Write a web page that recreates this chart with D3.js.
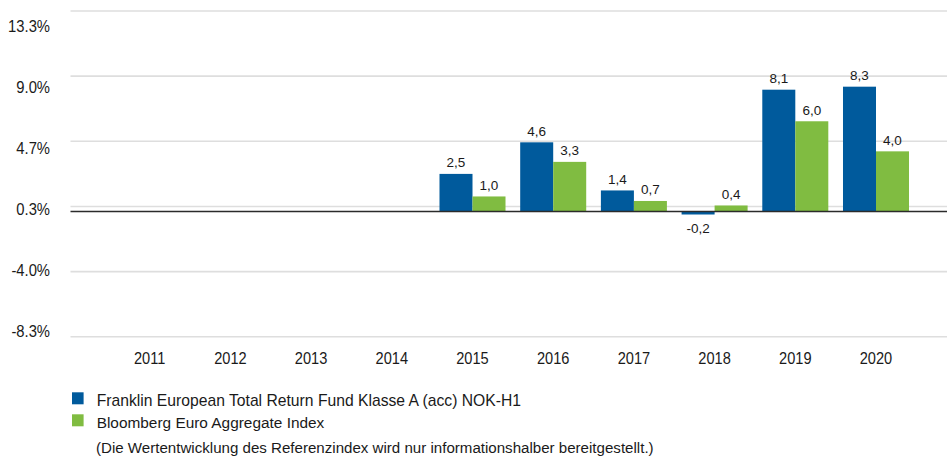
<!DOCTYPE html>
<html>
<head>
<meta charset="utf-8">
<script src="https://cdnjs.cloudflare.com/ajax/libs/d3/7.8.5/d3.min.js"></script>
<style>
  html, body { margin: 0; padding: 0; background: #fff; }
  svg { display: block; font-family: "Liberation Sans", Arial, sans-serif; }
</style>
</head>
<body>
<svg id="chart" width="947" height="459"></svg>
<script>
const years = ["2011","2012","2013","2014","2015","2016","2017","2018","2019","2020"];
const fundValues  = [null, null, null, null, 2.5, 4.6, 1.4, -0.2, 8.1, 8.3];
const indexValues = [null, null, null, null, 1.0, 3.3, 0.7, 0.4, 6.0, 4.0];
const seriesNames = ["Franklin European Total Return Fund Klasse A (acc) NOK-H1", "Bloomberg Euro Aggregate Index"];
const tickValues = [13.333, 9.0, 4.667, 0.333, -4.0, -8.333];
const tickLabels = ["13.3%", "9.0%", "4.7%", "0.3%", "-4.0%", "-8.3%"];
const note = "(Die Wertentwicklung des Referenzindex wird nur informationshalber bereitgestellt.)";

const colors = ["#005a9c", "#80bc41"];
const svg = d3.select("#chart");

const y = d3.scaleLinear().domain([-8.333, 13.333]).range([336.8, 11]);
const yLabel = d3.scaleLinear().domain([-8.333, 13.333]).range([337.3, 31.7]);
const x0 = d3.scaleBand().domain(years).range([109.35, 916.35]).paddingInner(0.182).paddingOuter(0.091);
const x1 = d3.scaleBand().domain([0, 1]).range([0, x0.bandwidth()]);

// gridlines
svg.append("g").selectAll("line").data(tickValues).join("line")
  .attr("x1", 70.5).attr("x2", 947)
  .attr("y1", d => y(d)).attr("y2", d => y(d))
  .attr("stroke", "#dedede").attr("stroke-width", 1.6);

// tick labels (separately spaced)
svg.append("g").selectAll("g").data(tickValues).join("g")
  .attr("transform", d => `translate(50,${yLabel(d)}) scale(0.87,1)`)
  .append("text")
  .attr("text-anchor", "end")
  .attr("font-size", 17).attr("fill", "#1a1a1a")
  .text((d, i) => tickLabels[i]);

// bars
const series = [fundValues, indexValues];
const barData = [];
years.forEach((yr, i) => series.forEach((s, k) => { if (s[i] !== null) barData.push({yr, k, v: s[i]}); }));

svg.append("g").selectAll("rect").data(barData).join("rect")
  .attr("x", d => x0(d.yr) + x1(d.k))
  .attr("width", x1.bandwidth())
  .attr("y", d => Math.min(y(d.v), y(0)))
  .attr("height", d => Math.abs(y(d.v) - y(0)))
  .attr("fill", d => colors[d.k]);

// zero line
svg.append("line")
  .attr("x1", 70.5).attr("x2", 947)
  .attr("y1", y(0)).attr("y2", y(0))
  .attr("stroke", "#2b2b2b").attr("stroke-width", 1.4);

// value labels
svg.append("g").selectAll("text").data(barData).join("text")
  .attr("x", d => x0(d.yr) + x1(d.k) + x1.bandwidth() / 2)
  .attr("y", d => d.v >= 0 ? y(d.v) - 6.5 : y(d.v) + 18.5)
  .attr("text-anchor", "middle")
  .attr("font-size", 13.5).attr("fill", "#1a1a1a")
  .text(d => d3.format(".1f")(d.v).replace(".", ",").replace("\u2212", "-"));

// x axis labels
svg.append("g").selectAll("g").data(years).join("g")
  .attr("transform", d => `translate(${x0(d) + x0.bandwidth() / 2},364) scale(0.86,1)`)
  .append("text")
  .attr("text-anchor", "middle")
  .attr("font-size", 17).attr("fill", "#1a1a1a")
  .text(d => d);

// legend
const leg = svg.append("g").selectAll("g").data(seriesNames).join("g")
  .attr("transform", (d, i) => `translate(72,${392.3 + i * 22})`);
leg.append("rect").attr("width", 11.6).attr("height", 12).attr("fill", (d, i) => colors[i]);
leg.append("text").attr("x", 24.7).attr("y", 13.4)
  .attr("font-size", (d, i) => i === 0 ? 15.7 : 15.4).attr("fill", "#1a1a1a")
  .text(d => d);

svg.append("text").attr("x", 96).attr("y", 453)
  .attr("font-size", 15.1).attr("fill", "#1a1a1a")
  .text(note);
</script>
</body>
</html>
